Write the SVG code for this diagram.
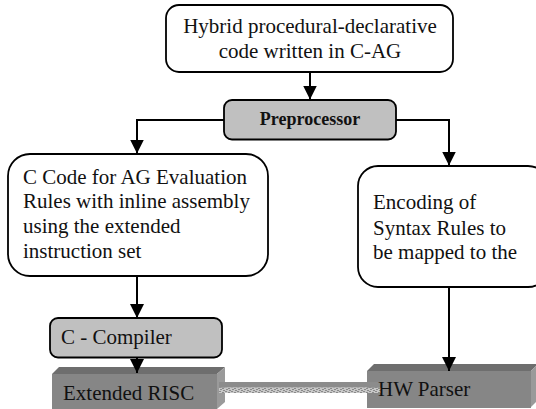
<svg xmlns="http://www.w3.org/2000/svg" width="536" height="409" viewBox="0 0 536 409">
<style>
text{font-family:"Liberation Serif","Times New Roman",serif;font-size:21px;fill:#111}
.b{stroke:#000;stroke-width:1.8}
.w{fill:#fff}.g{fill:#c0c0c0}
.c{fill:none;stroke:#000;stroke-width:2}
.f{fill:#868686}.t{fill:#6e6e6e}.s{fill:#9a9a9a}
</style>
<defs><marker id="a" markerUnits="userSpaceOnUse" markerWidth="14" markerHeight="14" refX="14" refY="7" orient="auto"><path d="M0 0L14 7L0 14Z"/></marker>
<pattern id="d" patternUnits="userSpaceOnUse" width="6" height="4" x="219" y="387"><rect width="6" height="4" fill="#c8c8c8"/><rect x="0" y="0" width="2" height="1" fill="#8a8a8a"/><rect x="3" y="1" width="2" height="1" fill="#8a8a8a"/><rect x="1" y="2" width="2" height="1" fill="#8a8a8a"/><rect x="4" y="3" width="2" height="1" fill="#8a8a8a"/></pattern></defs>
<g id="n6"><path class="t" d="M52 374L59 367H225L217 374Z"/><path class="s" d="M217 374L225 367V402L217 409Z"/><rect class="f" x="52" y="374" width="165" height="35"/><text x="63" y="400">Extended RISC</text></g>
<g id="n7"><path class="t" d="M367 371L374 364H536V366L531 371Z"/><path class="s" d="M531 371L536 366V402L531 407Z"/><rect class="f" x="367" y="371" width="164" height="37"/></g>
<g id="link"><rect x="219" y="387.500" width="162" height="5.500" fill="url(#d)"/><rect x="219" y="382" width="162" height="5.500" fill="#8c8c8c"/></g>
<text x="378" y="396">HW Parser</text>
<g id="n1"><rect class="b w" x="166" y="5" width="287" height="67" rx="13"/><text x="310" y="33" text-anchor="middle">Hybrid procedural-declarative</text><text x="310" y="58" text-anchor="middle">code written in C-AG</text></g>
<g id="n2"><rect class="b g" x="224" y="100" width="172" height="39.500" rx="8"/><text x="310" y="125" text-anchor="middle" font-weight="bold" style="font-size:18px">Preprocessor</text></g>
<g id="n3"><rect class="b w" x="8" y="154" width="260" height="122" rx="22"/><text x="23" y="184">C Code for AG Evaluation</text><text x="23" y="208">Rules with inline assembly</text><text x="23" y="233">using the extended</text><text x="23" y="258">instruction set</text></g>
<g id="n4"><rect class="b w" x="358" y="166" width="190" height="121" rx="20"/><text x="373" y="209">Encoding of</text><text x="373" y="235">Syntax Rules to</text><text x="373" y="259">be mapped to the</text></g>
<g id="n5"><rect class="b g" x="50" y="318" width="172" height="39.500" rx="8"/><text x="61" y="344">C - Compiler</text></g>
<g id="connectors">
<path class="c" d="M310 72V99.500" marker-end="url(#a)"/>
<path class="c" d="M224 120H137V153.500" marker-end="url(#a)"/>
<path class="c" d="M396 120H449V165.500" marker-end="url(#a)"/>
<path class="c" d="M137 276V318" marker-end="url(#a)"/>
<path class="c" d="M449 287V371" marker-end="url(#a)"/>
<path class="c" d="M137 357V373" marker-end="url(#a)"/>
</g>
</svg>
